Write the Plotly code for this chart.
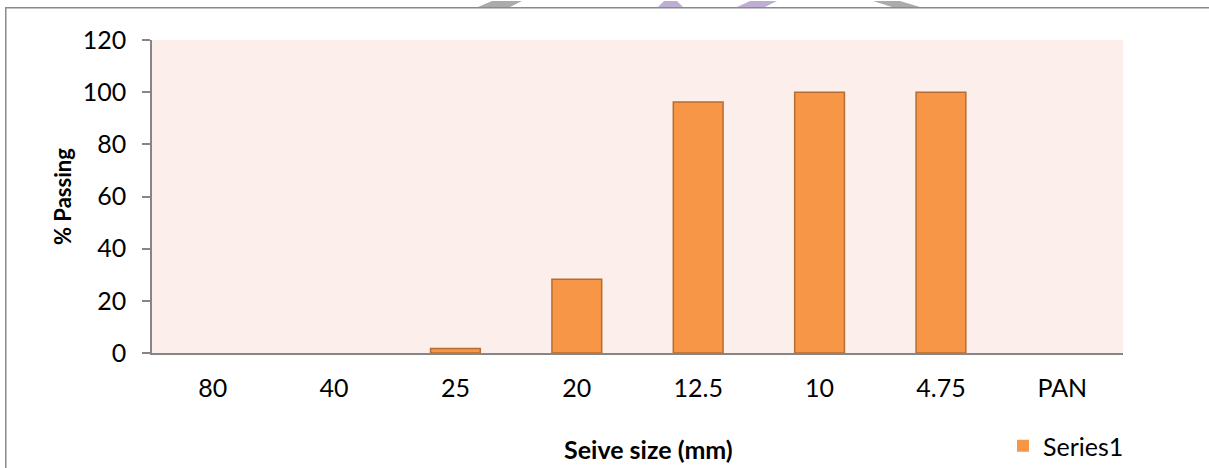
import plotly.graph_objects as go

# Sieve analysis: cumulative percent passing for each sieve size
sieve_sizes = ["80", "40", "25", "20", "12.5", "10", "4.75", "PAN"]
percent_passing = [0, 0, 1.7, 28.3, 96.2, 100, 100, 0]
y_ticks = [0, 20, 40, 60, 80, 100, 120]

W, H = 1209, 468
L, R, T, B = 152, 86, 40, 115
PW, PH = W - L - R, H - T - B


def px_x(px):
    return (px - L) / PW


def px_y(py):
    return (H - B - py) / PH


def px_path(points):
    return "M " + " L ".join(f"{px_x(a)},{px_y(b)}" for a, b in points) + " Z"


FONT = "Lato, Open Sans, sans-serif"
AXIS_GREY = "#868686"

# empty sieves get no outline so nothing is drawn for them
outline = [1.5 if v > 0 else 0 for v in percent_passing]

fig = go.Figure()
fig.add_trace(go.Bar(
    x=sieve_sizes,
    y=percent_passing,
    name="Series1",
    width=0.41,
    marker=dict(color="#F79646", line=dict(color="#B66D31", width=outline)),
))

# Page watermark fragments peeking above the frame
marks = [
    ("#ABABAB", [(478, 7), (510, 7), (522, 1), (492, 1)]),
    ("#BFAED4", [(658, 7), (683, 7), (677, 1), (664, 1)]),
    ("#BFAED4", [(737, 7), (765, 7), (777, 1), (750, 1)]),
    ("#ABABAB", [(873, 1), (900, 1), (920, 7), (892, 7)]),
]
for color, pts in marks:
    fig.add_shape(type="path", xref="paper", yref="paper", path=px_path(pts),
                  fillcolor=color, line=dict(width=0), layer="above")

# Chart frame: a bordered box whose right and bottom edges run off the page
fig.add_annotation(text=" ", xref="paper", yref="paper",
                   x=px_x(4.5), y=px_y(7), xanchor="left", yanchor="top",
                   width=1400, height=700, showarrow=False,
                   bordercolor="#8A8A8A", borderwidth=1.5, borderpad=0,
                   bgcolor="rgba(0,0,0,0)")

fig.add_annotation(text="<b>% Passing</b>", xref="paper", yref="paper",
                   x=px_x(62), y=px_y(197), xanchor="center", yanchor="middle",
                   textangle=-90, showarrow=False,
                   font=dict(family=FONT, size=22, color="black"))
fig.add_annotation(text="<b>Seive size (mm)</b>", xref="paper", yref="paper",
                   x=px_x(648), y=px_y(449), xanchor="center", yanchor="middle",
                   showarrow=False,
                   font=dict(family=FONT, size=25, color="black"))

fig.update_layout(
    width=W, height=H,
    margin=dict(l=L, r=R, t=T, b=B, autoexpand=False),
    paper_bgcolor="white",
    plot_bgcolor="#FCEEEA",
    font=dict(family=FONT, size=25, color="black"),
    showlegend=True,
    legend=dict(x=px_x(1003), y=px_y(446), xanchor="left", yanchor="middle",
                bgcolor="rgba(0,0,0,0)", font=dict(size=25),
                itemwidth=30, tracegroupgap=0),
    bargap=0.59,
)
fig.update_xaxes(type="category", showline=True, linecolor=AXIS_GREY, linewidth=2,
                 ticks="", showgrid=False, zeroline=False,
                 ticklabelstandoff=12, tickfont=dict(size=25))
fig.update_yaxes(range=[0, 120], tickvals=y_ticks, showline=True,
                 linecolor=AXIS_GREY, linewidth=1.5, ticks="outside", ticklen=8,
                 tickcolor=AXIS_GREY, tickwidth=1.5, showgrid=False, zeroline=False,
                 ticklabelstandoff=11, tickfont=dict(size=25))

fig.write_html("out.html")
